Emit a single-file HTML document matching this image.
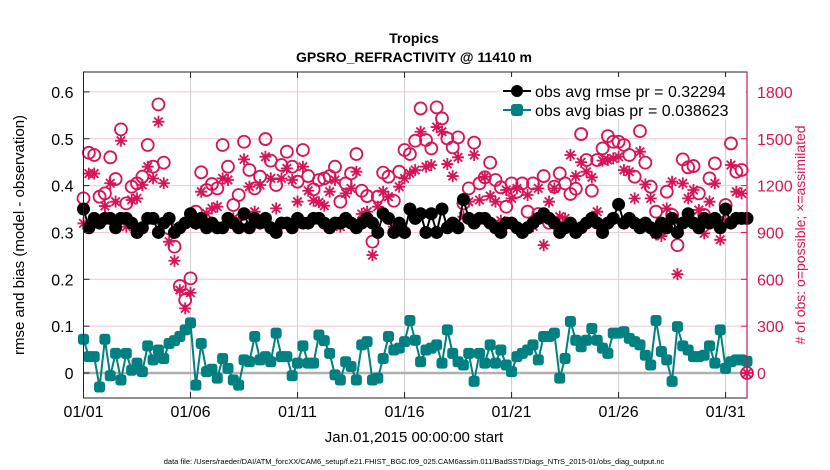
<!DOCTYPE html>
<html><head><meta charset="utf-8"><style>
body{margin:0;background:#fff;}
svg{display:block;font-family:"Liberation Sans",Arial,sans-serif;}
</style></head><body>
<svg id="chart" width="830" height="470">
<rect x="0" y="0" width="830" height="470" fill="#fff"/>
<g id="grid"></g>
<g id="marks"></g>
<g id="axes"></g>
<text x="414" y="43" text-anchor="middle" font-size="14" font-weight="bold">Tropics</text>
<text x="414" y="62" text-anchor="middle" font-size="14" font-weight="bold">GPSRO_REFRACTIVITY @ 11410 m</text>
<text transform="translate(24,235) rotate(-90)" text-anchor="middle" font-size="15">rmse and bias (model - observation)</text>
<text transform="translate(805,235) rotate(-90)" text-anchor="middle" font-size="14" fill="#d6145a"># of obs: o=possible; ×=assimilated</text>
<text x="414" y="442" text-anchor="middle" font-size="15">Jan.01,2015 00:00:00 start</text>
<text x="414" y="464" text-anchor="middle" font-size="7.5">data file: /Users/raeder/DAI/ATM_forcXX/CAM6_setup/f.e21.FHIST_BGC.f09_025.CAM6assim.011/BadSST/Diags_NTrS_2015-01/obs_diag_output.nc</text>
<g>
<rect x="500" y="77" width="246" height="42" fill="#fff"/>
<line x1="503" y1="91" x2="531" y2="91" stroke="#000" stroke-width="2"/>
<circle cx="517" cy="91" r="6" fill="#000"/>
<text x="535" y="97" font-size="16">obs avg rmse pr = 0.32294</text>
<line x1="503" y1="110" x2="531" y2="110" stroke="#008080" stroke-width="2"/>
<rect x="511" y="104" width="12" height="12" rx="3" fill="#008080"/>
<text x="535" y="116" font-size="16">obs avg bias pr = 0.038623</text>
</g>
</svg>
<script>
const xTickLabels=["01/01","01/06","01/11","01/16","01/21","01/26","01/31"];
const xTickDays=[0,5,10,15,20,25,30];
const yTicks=[0,0.1,0.2,0.3,0.4,0.5,0.6];
const y2Ticks=[0,300,600,900,1200,1500,1800];
const rmse=[0.35,0.31,0.33,0.32,0.33,0.33,0.31,0.33,0.33,0.32,0.30,0.31,0.33,0.33,0.30,0.32,0.33,0.30,0.31,0.32,0.34,0.32,0.33,0.31,0.32,0.31,0.31,0.33,0.32,0.31,0.34,0.31,0.33,0.32,0.33,0.31,0.30,0.32,0.32,0.31,0.33,0.32,
0.32,0.33,0.33,0.32,0.31,0.32,0.32,0.33,0.32,0.31,0.32,0.33,0.32,0.30,0.34,0.33,0.30,0.32,0.30,0.35,0.33,0.34,0.30,0.34,0.30,0.35,
0.31,0.32,0.31,0.37,0.33,0.32,0.33,0.33,0.32,0.31,0.30,0.32,0.32,0.31,0.30,0.31,0.32,0.33,0.34,0.33,0.32,0.30,0.31,0.32,0.30,
0.31,0.32,0.33,0.32,0.30,0.32,0.33,0.36,0.32,0.33,0.32,0.31,0.32,0.31,0.30,0.32,0.31,0.33,0.30,0.32,0.34,0.32,0.31,0.33,0.32,0.33,0.31,0.35,0.32,0.33,0.33,0.33];
const bias=[0.072,0.035,0.035,-0.03,0.072,-0.006,0.042,-0.015,0.042,0.006,0.021,0.003,0.058,0.028,0.049,0.031,0.063,0.069,0.078,0.092,0.107,-0.026,0.063,0.003,0.008,-0.011,0.031,0.01,-0.015,-0.026,0.028,0.024,0.078,0.028,0.035,0.024,0.085,0.035,0.035,-0.006,0.021,0.058,
0.021,0.021,0.081,0.069,0.042,-0.004,-0.015,0.024,0.014,-0.015,0.06,0.067,-0.015,-0.011,0.031,0.078,0.049,0.053,0.067,0.112,0.07,0.024,0.049,0.053,0.06,0.021,
0.092,0.042,0.024,0.017,0.042,-0.018,0.042,0.021,0.06,0.021,0.049,0.017,0.003,0.035,0.042,0.049,0.06,0.028,0.078,0.078,0.085,-0.011,0.031,0.11,0.07,
0.056,0.07,0.095,0.07,0.053,0.042,0.085,0.085,0.088,0.074,0.067,0.06,0.038,0.017,0.112,0.046,0.028,-0.018,0.099,0.058,0.049,0.035,0.035,0.038,0.058,0.021,0.092,0.01,0.024,0.028,0.028,0.025];
const possible=[1118,1410,1396,1129,1150,1381,1242,1560,1086,1193,1214,1257,1460,1321,1720,1347,926,809,557,467,606,1033,1285,1172,1210,1182,1460,1321,1076,1140,1481,1300,1182,1257,1498,1360,1204,1332,1417,1321,1225,1428,
1261,1176,1236,1246,1261,1321,1097,1214,1278,1402,1167,1133,841,1129,1283,1257,1103,1289,1428,1402,1487,1694,1492,1438,1701,1630,
1502,1445,1509,1086,1182,1475,1214,1253,1347,1236,1189,1065,1214,1161,1214,1033,1214,1018,1261,962,1193,1278,1214,1146,1180,1530,
1364,1167,1364,1438,1517,1481,1481,1460,1396,1257,1549,1347,1193,1033,920,1161,1012,819,1368,1317,1325,1150,1012,1246,1342,947,1076,1470,1289,1300,0];
const assimilated=[958,1277,1277,969,1069,1215,1097,1487,937,1108,1118,1204,1321,1246,1609,1215,841,719,531,414,514,954,1161,1022,1054,1065,1246,1236,990,980,1368,1193,1033,1204,1385,1246,1054,1246,1310,1236,1097,1321,
1167,1104,1093,1071,1161,1236,937,1150,1182,1289,1018,1033,755,1065,1161,1129,937,1193,1246,1278,1300,1545,1321,1332,1575,1545,
1338,1261,1381,1001,1097,1396,1108,1257,1133,1097,976,1172,1118,1182,912,1140,940,1182,819,1097,1182,1001,990,1396,1261,1350,
1289,1253,1033,1360,1364,1374,1385,1300,1289,1118,1417,1208,1118,888,877,1054,1225,633,1214,1118,1172,1044,894,1097,1214,853,976,1332,1161,1150,0];

const NS="http://www.w3.org/2000/svg";
const X0=83.5,X1=747,Y0=72,Y1=398;
const x=t=>X0+(t/31)*(X1-X0);
const y=v=>373-v*468.5;
const y2=c=>y(c/3000);
function mk(tag,attrs,parent){const e=document.createElementNS(NS,tag);for(const k in attrs)e.setAttribute(k,attrs[k]);parent.appendChild(e);return e;}
const grid=document.getElementById('grid'),marks=document.getElementById('marks'),axes=document.getElementById('axes');
yTicks.forEach(v=>{const l=mk('line',{x1:X0,x2:X1,y1:y(v),y2:y(v),stroke:'#f2c6d6','stroke-width':1},grid);

});
xTickDays.forEach(d=>{const l=mk('line',{x1:x(d),x2:x(d),y1:Y0,y2:Y1,stroke:'#d0d0d0','stroke-width':1},grid);

});
const zl=mk('line',{x1:X0,x2:X1,y1:y(0),y2:y(0),stroke:'#b0b0b0','stroke-width':2.5},grid);


const t=i=>i*0.25;
possible.forEach((c,i)=>{const e=mk('circle',{cx:x(t(i)),cy:y2(c),r:6,fill:'none',stroke:'#d6145a','stroke-width':1.8},marks);

});
assimilated.forEach((c,i)=>{const cx=x(t(i)),cy=y2(c),r=6;let d='';
for(let k=0;k<4;k++){const a=k*Math.PI/4;d+=`M${cx-r*Math.cos(a)},${cy-r*Math.sin(a)}L${cx+r*Math.cos(a)},${cy+r*Math.sin(a)}`;}
const e=mk('path',{d:d,stroke:'#d6145a','stroke-width':1.8},marks);

});
const rl=mk('polyline',{points:rmse.map((v,i)=>x(t(i))+','+y(v)).join(' '),fill:'none',stroke:'#000','stroke-width':2},marks);


rmse.forEach((v,i)=>{const e=mk('circle',{cx:x(t(i)),cy:y(v),r:6.5,fill:'#000'},marks);

});
const bl=mk('polyline',{points:bias.map((v,i)=>x(t(i))+','+y(v)).join(' '),fill:'none',stroke:'#008080','stroke-width':2},marks);


bias.forEach((v,i)=>{const e=mk('rect',{x:x(t(i))-5.5,y:y(v)-5.5,width:11,height:11,rx:3,fill:'#008080'},marks);

});
const fr=mk('rect',{x:X0,y:Y0,width:X1-X0,height:Y1-Y0,fill:'none',stroke:'#222','stroke-width':1},axes);


const ra=mk('line',{x1:X1,x2:X1,y1:Y0,y2:Y1,stroke:'#d6145a','stroke-width':1.2},axes);


yTicks.forEach(v=>{const tk=mk('line',{x1:X0,x2:X0+6,y1:y(v),y2:y(v),stroke:'#222'},axes);


const tx=mk('text',{x:X0-10,y:y(v)+6,'text-anchor':'end','font-size':16},axes);tx.textContent=String(v);

});
y2Ticks.forEach(c=>{const tk=mk('line',{x1:X1-6,x2:X1,y1:y2(c),y2:y2(c),stroke:'#d6145a'},axes);


const tx=mk('text',{x:X1+10,y:y2(c)+6,'font-size':16,fill:'#d6145a'},axes);tx.textContent=String(c);

});
xTickDays.forEach((d,i)=>{const tk=mk('line',{x1:x(d),x2:x(d),y1:Y1,y2:Y1-6,stroke:'#222'},axes);


const tk2=mk('line',{x1:x(d),x2:x(d),y1:Y0,y2:Y0+6,stroke:'#222'},axes);


const tx=mk('text',{x:x(d),y:417,'text-anchor':'middle','font-size':16},axes);tx.textContent=xTickLabels[i];

});
</script>
</body></html>
